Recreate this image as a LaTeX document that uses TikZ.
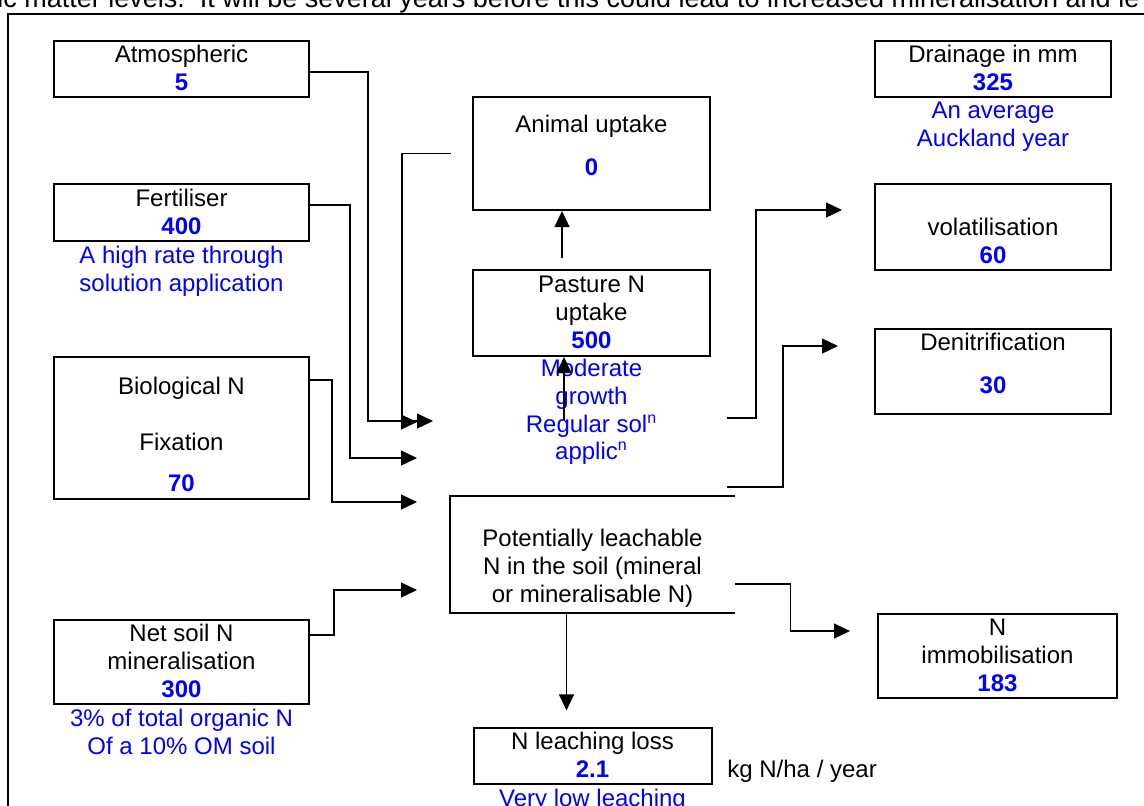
\documentclass[tikz,border=0pt]{standalone}
\usepackage{fontspec}
\setmainfont{Liberation Sans}
\usetikzlibrary{positioning,arrows.meta}
\newcommand{\val}[1]{\textcolor{blue}{\textbf{#1}}}

\begin{document}
\begin{tikzpicture}[x=0.5pt,y=-0.5pt,
    font=\fontsize{12pt}{13.8pt}\selectfont,
    box/.style={draw, line width=1pt, align=center, inner xsep=0pt, inner ysep=0pt},
    note/.style={text=blue, align=center, inner sep=0pt},
    arr/.style={-{Triangle[length=8pt,width=7.5pt]}, line width=0.6pt}]
\useasboundingbox (0,0) rectangle (1144,805);

% Page text and frame
\node[anchor=base west, inner sep=0, font=\fontsize{13.5pt}{16pt}\selectfont] (topline) at (-3,7)
    {ic matter levels.\ \ It will be several years before this could lead to increased mineralisation and le};
\draw[line width=1pt] (8,830) -- (8,13.5) -- (1170,13.5);

% Inputs
\node[box,
    minimum width=127.5pt,
    text height=24.5pt, text depth=3.5pt
] (atmos) at (181.5,69) {Atmospheric\\\val{5}};

\node[box,
    minimum width=127.5pt,
    text height=25pt, text depth=3.5pt,
    below=42.5pt of atmos
] (fert) {Fertiliser\\\val{400}};
\node[note, below=2pt of fert] (fertnote) {A high rate through\\solution application};

\node[box,
    minimum width=127.5pt,
    text height=67pt, text depth=4pt,
    below=57pt of fert
] (bio) {Biological N\\[13.8pt]Fixation\\[6.7pt]\val{70}};

\node[box,
    minimum width=127.5pt,
    text height=38.5pt, text depth=3.5pt,
    below=59.5pt of bio
] (net) {Net soil N\\mineralisation\\\val{300}};
\node[note, below=2pt of net] (netnote) {3\% of total organic N\\Of a 10\% OM soil};

% Plant and animal
\node[box,
    minimum width=118.5pt,
    text height=39pt, text depth=17.5pt
] (animal) at (591.5,153.5) {Animal uptake\\[7.7pt]\val{0}};

\node[box,
    minimum width=118.5pt,
    text height=39pt, text depth=4pt,
    below=29pt of animal
] (pasture) {Pasture N\\uptake\\\val{500}};
\node[note, below=1pt of pasture] (pasturenote)
    {Moderate\\growth\\Regular sol\textsuperscript{n}\\applic\textsuperscript{n}};

% Soil pool (open on the right)
\node[align=center,
    minimum width=142.5pt, inner sep=0pt,
    text height=53pt, text depth=5.5pt
] (soil) at (592.5,554.5) {Potentially leachable\\N in the soil (mineral\\or mineralisable N)};
\draw[line width=1pt] (soil.north east) -- (soil.north west) -- (soil.south west) -- (soil.south east);

\node[box,
    minimum width=119pt,
    text height=24.5pt, text depth=3.5pt,
    below=57pt of soil
] (leach) {N leaching loss\\\val{2.1}};
\node[note, below=1.5pt of leach] (leachnote) {Very low leaching};
\node[anchor=base west, inner sep=0] (unit) at (727,777) {kg N/ha / year};

% Losses
\node[box,
    minimum width=118pt,
    text height=24.5pt, text depth=3.5pt
] (drain) at (993,69) {Drainage in mm\\\val{325}};
\node[note, below=2pt of drain] (drainnote) {An average\\Auckland year};

\node[box,
    minimum width=118pt,
    text height=39.5pt, text depth=3.5pt,
    below=42.5pt of drain
] (volat) {volatilisation\\\val{60}};

\node[box,
    minimum width=118pt,
    text height=32pt, text depth=10.5pt,
    below=28.5pt of volat
] (denit) {Denitrification\\[7.7pt]\val{30}};

\node[box,
    minimum width=119.5pt,
    text height=38.5pt, text depth=3.5pt
] (immob) at (997.5,656) {N\\immobilisation\\\val{183}};

% Arrow ends
\coordinate (inA) at (433,421);
\coordinate (inB) at (417,422);
\coordinate (inC) at (417,458);
\coordinate (inD) at (417,502);
\coordinate (inE) at (417,590);
\coordinate (outA) at (727,418);
\coordinate (outB) at (727,487);
\coordinate (toVolat) at (842,210);
\coordinate (toDenit) at (838,346);
\coordinate (toImmob) at (850,631);

% Arrows
\draw[arr] ([yshift=-1.5pt]atmos.east) -- ++(29pt,0) |- (inA);
\draw[arr] ([xshift=-10.5pt]animal.west) -- ++(-24.5pt,0) |- (inB);
\draw[arr] ([yshift=3.75pt]fert.east) -- ++(20pt,0) |- (inC);
\draw[arr] ([yshift=24pt]bio.east) -- ++(11pt,0) |- (inD);
\draw[arr] ([yshift=13.5pt]net.east) -- ++(12pt,0) |- (inE);
\draw[arr] ([xshift=-14.75pt,yshift=5.5pt]pasture.north) -- ([xshift=-14.75pt]animal.south);
\draw[arr] ([xshift=-13.75pt,yshift=-31.5pt]pasture.south) -- ([xshift=-13.75pt]pasture.south);
\draw[arr] (outA) -- ++(14.5pt,0) |- (toVolat);
\draw[arr] (outB) -- ++(28pt,0) |- (toDenit);
\draw[arr] ([yshift=-14.75pt]soil.east) -- ++(27.5pt,0) |- (toImmob);
\draw[arr] ([xshift=-13pt]soil.south) -- ([xshift=-13pt,yshift=8.5pt]leach.north);

\end{tikzpicture}
\end{document}
